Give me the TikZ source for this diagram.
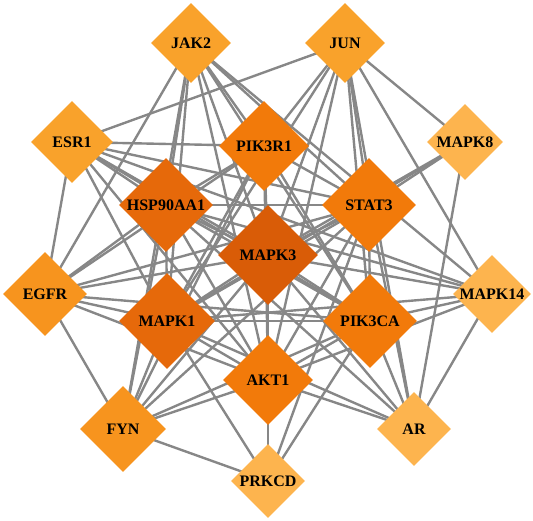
\documentclass[tikz,border=0pt]{standalone}
\usepackage{fontspec}
\setmainfont{Liberation Serif}
\usetikzlibrary{shapes.geometric}
\definecolor{EdgeClr}{rgb}{0.53,0.53,0.53}
\definecolor{TopClr}{HTML}{D95C07}
\definecolor{HighClr}{HTML}{E6690A}
\definecolor{UpClr}{HTML}{F27A0A}
\definecolor{MidClr}{HTML}{F7941E}
\definecolor{LowClr}{HTML}{F9A22B}
\definecolor{MinClr}{HTML}{FDB44E}
\pgfdeclarelayer{edges}
\pgfsetlayers{edges,main}

\begin{document}
\begin{tikzpicture}[x=1pt,y=-1pt,
  gene/.style={diamond,aspect=1,inner sep=0pt,
    font=\bfseries\fontsize{16}{16}\selectfont},
  link/.style={draw=EdgeClr,line width=2.4pt}]
\useasboundingbox (0,0) rectangle (533,521);

\node[gene,fill=LowClr,minimum size=80pt] (jak2) at (191,43) {JAK2};
\node[gene,fill=LowClr,minimum size=80pt] (jun) at (345,43) {JUN};
\node[gene,fill=LowClr,minimum size=82pt] (esr1) at (72,142) {ESR1};
\node[gene,fill=MinClr,minimum size=76pt] (mapk8) at (465,142) {MAPK8};
\node[gene,fill=UpClr,minimum size=90pt] (pik3r1) at (264,146) {PIK3R1};
\node[gene,fill=HighClr,minimum size=94pt] (hsp) at (166,205) {HSP90AA1};
\node[gene,fill=UpClr,minimum size=94pt] (stat3) at (369,205) {STAT3};
\node[gene,fill=TopClr,minimum size=100pt] (mapk3) at (268,255) {MAPK3};
\node[gene,fill=MidClr,minimum size=84pt] (egfr) at (45,294) {EGFR};
\node[gene,fill=MinClr,minimum size=78pt] (mapk14) at (492,294) {MAPK14};
\node[gene,fill=HighClr,minimum size=96pt] (mapk1) at (167,321) {MAPK1};
\node[gene,fill=UpClr,minimum size=94pt] (pik3ca) at (370,321) {PIK3CA};
\node[gene,fill=UpClr,minimum size=90pt] (akt1) at (268,380) {AKT1};
\node[gene,fill=MidClr,minimum size=86pt] (fyn) at (123,429) {FYN};
\node[gene,fill=MinClr,minimum size=74pt] (ar) at (414,429) {AR};
\node[gene,fill=MinClr,minimum size=74pt] (prkcd) at (268,481) {PRKCD};

\begin{pgfonlayer}{edges}
\foreach \a/\b in {mapk3/hsp,mapk3/mapk1,mapk3/pik3r1,mapk3/stat3,mapk3/pik3ca,
  mapk3/akt1,hsp/mapk1,hsp/pik3r1,hsp/stat3,hsp/pik3ca,hsp/akt1,mapk1/pik3r1,
  mapk1/stat3,mapk1/pik3ca,mapk1/akt1,pik3r1/stat3,pik3r1/pik3ca,pik3r1/akt1,
  stat3/pik3ca,stat3/akt1,pik3ca/akt1,
  mapk3/jak2,mapk3/jun,mapk3/esr1,mapk3/mapk8,mapk3/egfr,mapk3/mapk14,
  mapk3/fyn,mapk3/ar,mapk3/prkcd,
  jak2/egfr,jak2/hsp,jak2/mapk1,jak2/akt1,jak2/pik3r1,jak2/stat3,jak2/pik3ca,
  jak2/mapk14,jak2/fyn,
  jun/esr1,jun/pik3r1,jun/mapk1,jun/akt1,jun/stat3,jun/pik3ca,jun/mapk8,
  jun/mapk14,jun/ar,
  esr1/pik3r1,esr1/stat3,esr1/mapk14,esr1/pik3ca,esr1/hsp,esr1/akt1,
  esr1/mapk1,esr1/egfr,
  mapk8/stat3,mapk8/mapk1,mapk8/ar,
  egfr/fyn,egfr/hsp,egfr/mapk1,egfr/stat3,egfr/pik3ca,egfr/akt1,egfr/pik3r1,
  mapk14/hsp,mapk14/mapk1,mapk14/pik3ca,mapk14/akt1,mapk14/ar,
  fyn/prkcd,fyn/mapk1,fyn/hsp,fyn/akt1,fyn/pik3ca,fyn/stat3,fyn/pik3r1,
  ar/stat3,ar/pik3ca,ar/hsp,ar/akt1,ar/mapk1,
  prkcd/akt1,prkcd/mapk1,prkcd/pik3ca,prkcd/stat3}
  \draw[link] (\a.center) -- (\b.center);
\end{pgfonlayer}
\end{tikzpicture}
\end{document}
